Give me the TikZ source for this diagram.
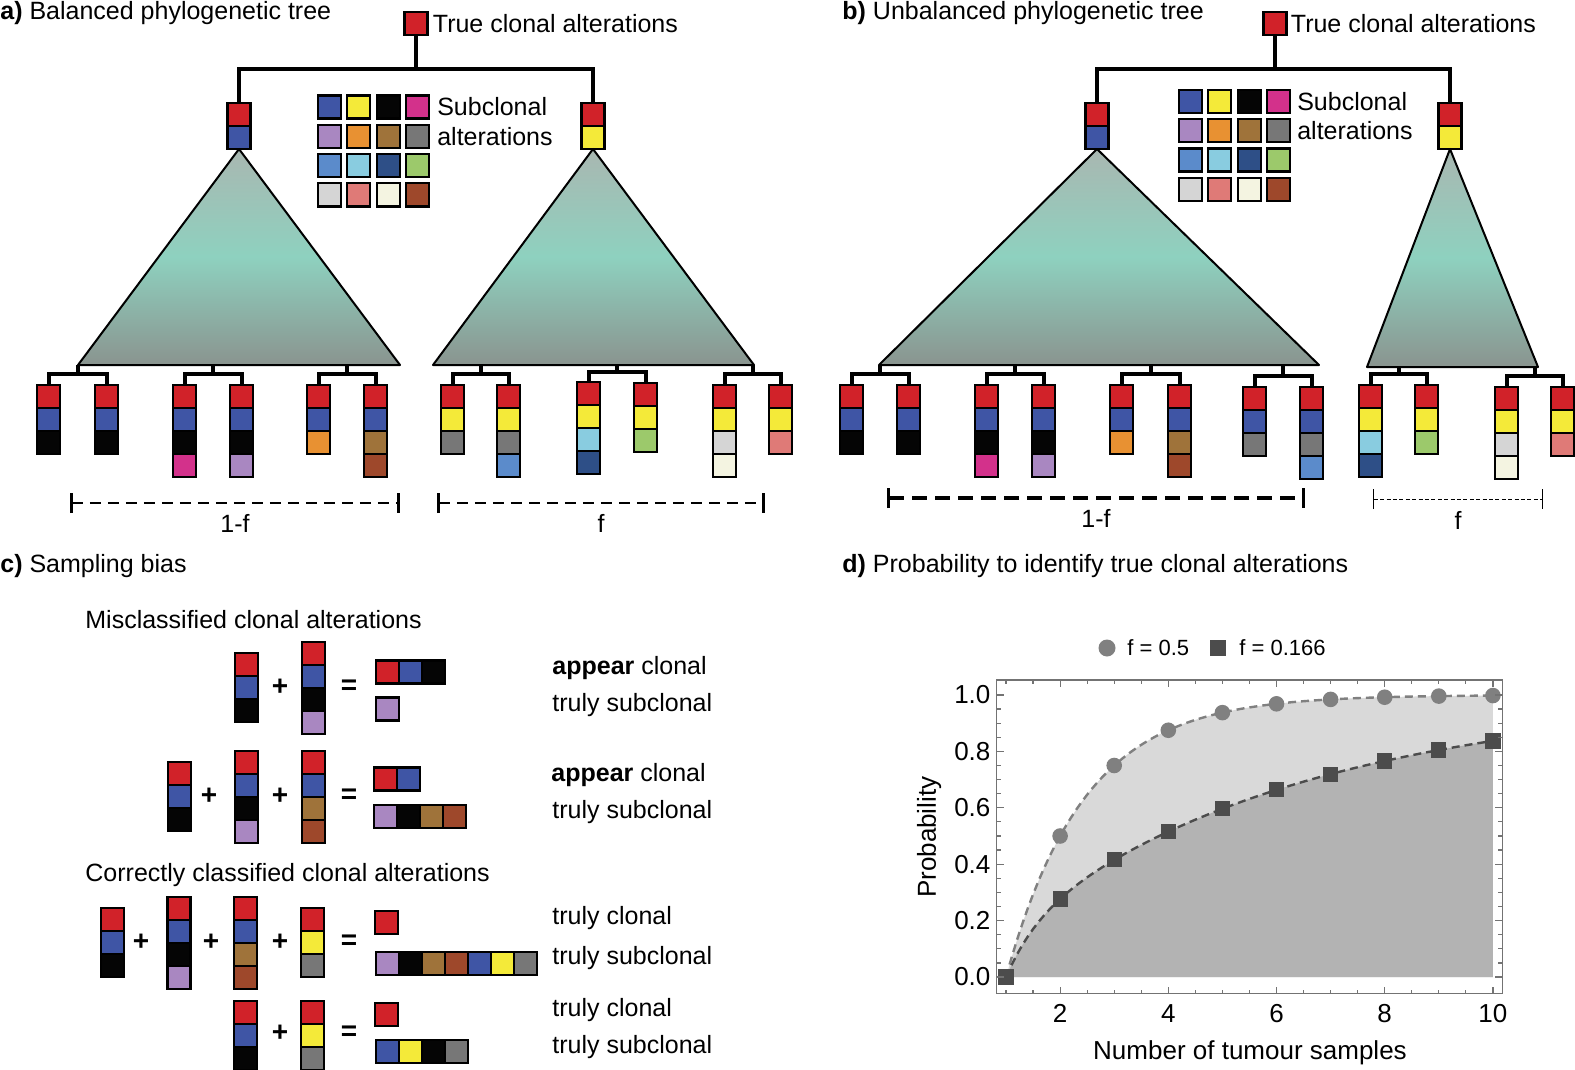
\documentclass[tikz,border=0pt]{standalone}
\usepackage{fontspec}
\setmainfont{Liberation Sans}
\usetikzlibrary{arrows.meta,calc,positioning}

\definecolor{cRed}{HTML}{D12229}
\definecolor{cBlue}{HTML}{3F55A5}
\definecolor{cYellow}{HTML}{F4EA39}
\definecolor{cBlack}{HTML}{050505}
\definecolor{cMagenta}{HTML}{D3318B}
\definecolor{cLilac}{HTML}{A987C1}
\definecolor{cOrange}{HTML}{E89132}
\definecolor{cOchre}{HTML}{9F733A}
\definecolor{cGrey}{HTML}{777777}
\definecolor{cSteel}{HTML}{5B8BCB}
\definecolor{cCyan}{HTML}{89CCE0}
\definecolor{cNavy}{HTML}{2E4F87}
\definecolor{cGreen}{HTML}{9CC96B}
\definecolor{cLight}{HTML}{D5D5D5}
\definecolor{cSalmon}{HTML}{DF7A77}
\definecolor{cCream}{HTML}{F4F4E1}
\definecolor{cRust}{HTML}{9E482B}
\definecolor{triTop}{HTML}{A9B7B1}
\definecolor{triMid}{HTML}{8ED1BF}
\definecolor{triBot}{HTML}{8A948F}
\definecolor{plotLight}{HTML}{D9D9D9}
\definecolor{plotDark}{HTML}{B3B3B3}

\newcommand{\lblfont}{\fontsize{12.5pt}{15pt}\selectfont}

\tikzset{
  cell/.style={draw=black, line width=1.1pt, minimum size=11.5pt, inner sep=0pt, outer sep=0pt},
  lbl/.style={font=\lblfont, inner sep=0pt},
  sign/.style={font=\fontsize{14pt}{16pt}\selectfont\bfseries, inner sep=0pt},
  branch/.style={line width=2pt},
  twig/.style={line width=2pt},
  tri/.style={top color=triTop, bottom color=triBot, middle color=triMid, draw=black, line width=1pt, line join=round},
  span/.style={{Bar[width=10pt]}-{Bar[width=10pt]}, line width=1.3pt, dash pattern=on 5.5pt off 3.5pt},
  frame/.style={black!55, line width=0.6pt},
  ticklbl/.style={font=\fontsize{13pt}{15pt}\selectfont, inner sep=0pt},
}

% column of alterations: name, centre x, top y, colours
\newcommand{\clone}[4]{%
  \foreach \c [count=\i] in {#4}
    \node[cell, fill=\c] (#1-\i) at (#2, {#3+11.5+23*(\i-1)}) {};
}
% row of alterations: name, left x, centre y, colours
\newcommand{\cloneRow}[4]{%
  \foreach \c [count=\i] in {#4}
    \node[cell, fill=\c] (#1-\i) at ({#2+11.5+23*(\i-1)}, #3) {};
}
% colour key: name, centre x and y of first cell
\newcommand{\colourkey}[3]{%
  \foreach \c [count=\i from 0] in {cBlue,cYellow,cBlack,cMagenta,cLilac,cOrange,cOchre,cGrey,cSteel,cCyan,cNavy,cGreen,cLight,cSalmon,cCream,cRust} {
    \pgfmathtruncatemacro\r{\i/4}
    \pgfmathtruncatemacro\k{mod(\i,4)}
    \node[cell, fill=\c] (#1-\i) at ({#2+29.3*\k}, {#3+29.3*\r}) {};
  }
}
% two leaves joined to the base of a triangle
\newcommand{\leafpair}[4]{%
  \coordinate (#3) at ($(#1-1.north)!0.5!(#2-1.north)+(0,-11)$);
  \draw[twig] (#1-1.north) |- (#3) -| (#2-1.north);
  \draw[twig] (#3) -- (#3 |- #4);
}

\begin{document}
\begin{tikzpicture}[x=0.5pt, y=-0.5pt]
\useasboundingbox (0,0) rectangle (1575,1070);

\node[lbl, anchor=west] (ttlA) at (0,13) {\textbf{a)} Balanced phylogenetic tree};
\node[lbl, anchor=west] (ttlB) at (842,13) {\textbf{b)} Unbalanced phylogenetic tree};
\node[lbl, anchor=west] (ttlC) at (0,566) {\textbf{c)} Sampling bias};
\node[lbl, anchor=west] (ttlD) at (842,566) {\textbf{d)} Probability to identify true clonal alterations};

% a) balanced tree
\clone{aroot}{416}{12}{cRed}
\node[lbl, right=2.5pt of aroot-1] (aroottxt) {True clonal alterations};
\clone{aL}{239}{103}{cRed,cBlue}
\clone{aR}{593}{103}{cRed,cYellow}
\coordinate (abar) at (416,69);
\draw[branch] (aroot-1) -- (abar);
\draw[branch] (aL-1.north) |- (abar) -| (aR-1.north);
\colourkey{akey}{329.5}{107}
\node[lbl, right=4pt of akey-3] (akeytxt1) {Subclonal};
\node[lbl, right=4pt of akey-7] (akeytxt2) {alterations};

\coordinate (aLl) at (78,365);
\coordinate (aLr) at (400,365);
\coordinate (aRl) at (433,365);
\coordinate (aRr) at (754,365);
\shadedraw[tri] (aL-2.south) -- (aLl) -- (aLr) -- cycle;
\shadedraw[tri] (aR-2.south) -- (aRl) -- (aRr) -- cycle;

\clone{a1}{48.5}{385}{cRed,cBlue,cBlack}
\clone{a2}{106.5}{385}{cRed,cBlue,cBlack}
\clone{a3}{184.5}{385}{cRed,cBlue,cBlack,cMagenta}
\clone{a4}{241.5}{385}{cRed,cBlue,cBlack,cLilac}
\clone{a5}{318.5}{385}{cRed,cBlue,cOrange}
\clone{a6}{375.5}{385}{cRed,cBlue,cOchre,cRust}
\clone{a7}{452.5}{385}{cRed,cYellow,cGrey}
\clone{a8}{508.5}{385}{cRed,cYellow,cGrey,cSteel}
\clone{a9}{588.5}{382}{cRed,cYellow,cCyan,cNavy}
\clone{a10}{645.5}{383}{cRed,cYellow,cGreen}
\clone{a11}{724.5}{385}{cRed,cYellow,cLight,cCream}
\clone{a12}{780.5}{385}{cRed,cYellow,cSalmon}
\leafpair{a1}{a2}{ap1}{aLl}
\leafpair{a3}{a4}{ap2}{aLl}
\leafpair{a5}{a6}{ap3}{aLl}
\leafpair{a7}{a8}{ap4}{aRl}
\leafpair{a9}{a10}{ap5}{aRl}
\leafpair{a11}{a12}{ap6}{aRl}

\coordinate (aS1) at (70,503);
\coordinate (aS2) at (400,503);
\coordinate (aS3) at (437,503);
\coordinate (aS4) at (765,503);
\draw[span] (aS1) -- node[lbl, below=5pt] (aSt1) {1-f} (aS2);
\draw[span] (aS3) -- node[lbl, below=5pt] (aSt2) {f} (aS4);

% b) unbalanced tree
\clone{broot}{1275}{12}{cRed}
\node[lbl, right=2pt of broot-1] (broottxt) {True clonal alterations};
\clone{bL}{1097}{103}{cRed,cBlue}
\clone{bR}{1450}{103}{cRed,cYellow}
\coordinate (bbar) at (1275,69);
\draw[branch] (broot-1) -- (bbar);
\draw[branch] (bL-1.north) |- (bbar) -| (bR-1.north);
\colourkey{bkey}{1190.5}{101.5}
\node[lbl, right=3.5pt of bkey-3] (bkeytxt1) {Subclonal};
\node[lbl, right=3.5pt of bkey-7] (bkeytxt2) {alterations};

\coordinate (bLl) at (879,365);
\coordinate (bLr) at (1319,365);
\coordinate (bRl) at (1367,367);
\coordinate (bRr) at (1538,367);
\shadedraw[tri] (bL-2.south) -- (bLl) -- (bLr) -- cycle;
\shadedraw[tri] (bR-2.south) -- (bRl) -- (bRr) -- cycle;

\clone{b1}{851.5}{385}{cRed,cBlue,cBlack}
\clone{b2}{908.5}{385}{cRed,cBlue,cBlack}
\clone{b3}{986.5}{385}{cRed,cBlue,cBlack,cMagenta}
\clone{b4}{1043.5}{385}{cRed,cBlue,cBlack,cLilac}
\clone{b5}{1121.5}{385}{cRed,cBlue,cOrange}
\clone{b6}{1179.5}{385}{cRed,cBlue,cOchre,cRust}
\clone{b7}{1254.5}{387}{cRed,cBlue,cGrey}
\clone{b8}{1311.5}{387}{cRed,cBlue,cGrey,cSteel}
\clone{b9}{1370.5}{385}{cRed,cYellow,cCyan,cNavy}
\clone{b10}{1426.5}{385}{cRed,cYellow,cGreen}
\clone{b11}{1506.5}{387}{cRed,cYellow,cLight,cCream}
\clone{b12}{1562.5}{387}{cRed,cYellow,cSalmon}
\leafpair{b1}{b2}{bp1}{bLl}
\leafpair{b3}{b4}{bp2}{bLl}
\leafpair{b5}{b6}{bp3}{bLl}
\leafpair{b7}{b8}{bp4}{bLl}
\leafpair{b9}{b10}{bp5}{bRl}
\leafpair{b11}{b12}{bp6}{bRl}

\coordinate (bS1) at (887,498);
\coordinate (bS2) at (1305,498);
\coordinate (bS3) at (1373,499);
\coordinate (bS4) at (1543,499);
\draw[span, line width=1.6pt, dash pattern=on 7.5pt off 4pt] (bS1) -- node[lbl, below=5pt] (bSt1) {1-f} (bS2);
\draw[span, line width=0.5pt, dash pattern=on 2pt off 1.2pt] (bS3) -- node[lbl, below=6pt] (bSt2) {f} (bS4);

% c) sampling bias
\node[lbl, anchor=west] (miscl) at (85,620) {Misclassified clonal alterations};
\clone{m1a}{246.5}{653}{cRed,cBlue,cBlack}
\clone{m1b}{313.5}{642}{cRed,cBlue,cBlack,cLilac}
\node[sign] (m1plus) at (280,687) {+};
\node[sign] (m1eq) at (349,687) {=};
\cloneRow{m1c}{376}{672}{cRed,cBlue,cBlack}
\cloneRow{m1d}{376}{709}{cLilac}
\node[lbl, anchor=west] (m1t1) at (552,668) {\textbf{appear} clonal};
\node[lbl, anchor=west] (m1t2) at (552,705) {truly subclonal};

\clone{m2a}{179.5}{762}{cRed,cBlue,cBlack}
\clone{m2b}{246.5}{751}{cRed,cBlue,cBlack,cLilac}
\clone{m2c}{313.5}{751}{cRed,cBlue,cOchre,cRust}
\node[sign] (m2plus1) at (209,796) {+};
\node[sign] (m2plus2) at (280,796) {+};
\node[sign] (m2eq) at (349,796) {=};
\cloneRow{m2d}{374}{779}{cRed,cBlue}
\cloneRow{m2e}{374}{816.5}{cLilac,cBlack,cOchre,cRust}
\node[lbl, anchor=west] (m2t1) at (551,775) {\textbf{appear} clonal};
\node[lbl, anchor=west] (m2t2) at (552,812) {truly subclonal};

\node[lbl, anchor=west] (corcl) at (85,875) {Correctly classified clonal alterations};
\clone{k1a}{112.5}{908}{cRed,cBlue,cBlack}
\clone{k1b}{179}{897}{cRed,cBlue,cBlack,cLilac}
\clone{k1c}{245.5}{897}{cRed,cBlue,cOchre,cRust}
\clone{k1d}{312.5}{908}{cRed,cYellow,cGrey}
\node[sign] (k1plus1) at (141,942) {+};
\node[sign] (k1plus2) at (211,942) {+};
\node[sign] (k1plus3) at (280,942) {+};
\node[sign] (k1eq) at (349,942) {=};
\cloneRow{k1e}{375}{922.5}{cRed}
\cloneRow{k1f}{376}{963.5}{cLilac,cBlack,cOchre,cRust,cBlue,cYellow,cGrey}
\node[lbl, anchor=west] (k1t1) at (552,918) {truly clonal};
\node[lbl, anchor=west] (k1t2) at (552,958) {truly subclonal};

\clone{k2a}{245.5}{1001}{cRed,cBlue,cBlack}
\clone{k2b}{312.5}{1001}{cRed,cYellow,cGrey}
\node[sign] (k2plus) at (280,1033) {+};
\node[sign] (k2eq) at (349,1033) {=};
\cloneRow{k2c}{375}{1014.5}{cRed}
\cloneRow{k2d}{376}{1051.5}{cBlue,cYellow,cBlack,cGrey}
\node[lbl, anchor=west] (k2t1) at (552,1010) {truly clonal};
\node[lbl, anchor=west] (k2t2) at (552,1047) {truly subclonal};

% d) probability plot
\fill[black!50] (1107,648) circle (4.25pt);
\node[lbl, font=\fontsize{11pt}{13pt}\selectfont, anchor=west] (legA) at (1127,648) {f = 0.5};
\fill[black!70] (1218,648) +(-4pt,-4pt) rectangle +(4pt,4pt);
\node[lbl, font=\fontsize{11pt}{13pt}\selectfont, anchor=west] (legB) at (1239,648) {f = 0.166};

\begin{scope}[shift={(951.9,977)}, x=27.05pt, y=141pt]
  \fill[plotLight] plot[domain=1:10, samples=91] (\x,{1-2*0.5^\x}) -- (10,0) -- cycle;
  \fill[plotDark] plot[domain=1:10, samples=91] (\x,{1-0.834^\x-0.166^\x}) -- (10,0) -- cycle;
  \draw[black!50, line width=1.2pt, dash pattern=on 4pt off 2.5pt] plot[domain=1:10, samples=91] (\x,{1-2*0.5^\x});
  \draw[black!70, line width=1.2pt, dash pattern=on 4pt off 2.5pt] plot[domain=1:10, samples=91] (\x,{1-0.834^\x-0.166^\x});
  \foreach \n in {1,...,10}
    \fill[black!50] (\n,{1-2*0.5^\n}) circle (3.9pt);
  \foreach \n in {1,...,10}
    \fill[black!70] (\n,{1-0.834^\n-0.166^\n}) +(-3.8pt,-3.8pt) rectangle +(3.8pt,3.8pt);
  \draw[frame] (0.83,-0.059) rectangle (10.17,1.053);
  \foreach \n in {1,1.5,...,10} {
    \draw[frame] (\n,-0.059) -- ++(0,2pt);
    \draw[frame] (\n,1.053) -- ++(0,-2pt);
  }
  \foreach \n in {2,4,...,10} {
    \draw[frame] (\n,-0.059) -- ++(0,3.5pt);
    \draw[frame] (\n,1.053) -- ++(0,-3.5pt);
    \node[ticklbl] at (\n,-0.128) {\n};
  }
  \foreach \p in {0,0.05,...,1.01} {
    \draw[frame] (0.83,\p) -- ++(2pt,0);
    \draw[frame] (10.17,\p) -- ++(-2pt,0);
  }
  \foreach \p/\t in {0/0.0,0.2/0.2,0.4/0.4,0.6/0.6,0.8/0.8,1/1.0} {
    \draw[frame] (0.83,\p) -- ++(3.5pt,0);
    \draw[frame] (10.17,\p) -- ++(-3.5pt,0);
    \node[ticklbl, anchor=east] at ([xshift=-3pt]0.83,\p) {\t};
  }
  \node[ticklbl] (xlab) at (5.51,-0.27) {Number of tumour samples};
  \node[ticklbl, rotate=90] (ylab) at (-0.42,0.496) {Probability};
\end{scope}
\end{tikzpicture}
\end{document}
